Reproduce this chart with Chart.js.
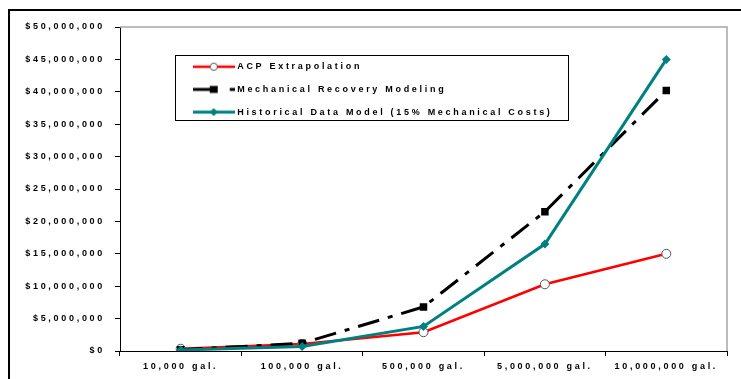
<!DOCTYPE html>
<html>
<head>
<meta charset="utf-8">
<script src="https://cdn.jsdelivr.net/npm/chart.js@4/dist/chart.umd.min.js"></script>
<style>
  html, body { margin: 0; padding: 0; background: #fff; }
  #wrap { position: relative; width: 741px; height: 379px; overflow: hidden; }
  #frame { position: absolute; left: 8px; top: 9px; width: 760px; height: 400px;
           border-left: 2px solid #000; border-top: 2px solid #000; pointer-events: none; }
  canvas { position: absolute; left: 0; top: 0; }
</style>
</head>
<body>
<div id="wrap">
  <canvas id="c" width="741" height="379"></canvas>
  <div id="frame"></div>
</div>
<script>
// Spill size categories
const categories = ['10,000 gal.', '100,000 gal.', '500,000 gal.', '5,000,000 gal.', '10,000,000 gal.'];

// Estimated response cost (US$) per spill size
const acpExtrapolation   = [350000, 1080000, 2900000, 10300000, 15000000];
const mechanicalRecovery = [200000, 1200000, 6800000, 21500000, 40200000];
const historicalModel    = [150000,  700000, 3800000, 16500000, 45000000];

// Value axis range
const yMin = 0, yMax = 50000000, yStep = 5000000;

const seriesNames = [
  'ACP Extrapolation',
  'Mechanical Recovery Modeling',
  'Historical Data Model (15% Mechanical Costs)'
];

const RED = '#ff0000', TEAL = '#008080', BLACK = '#000000';
const SPACING = '2.7px';
const FONT = { family: "'Liberation Sans', Arial, sans-serif", size: 9, weight: 'bold' };
const TEXT = '#000';

// Small legend glyphs: line sample with the series marker
function glyph(kind) {
  const cv = document.createElement('canvas');
  cv.width = 42; cv.height = 12;
  const g = cv.getContext('2d');
  const cy = 6;
  if (kind === 'acp') {
    g.strokeStyle = RED; g.lineWidth = 2.5;
    g.beginPath(); g.moveTo(0, cy); g.lineTo(42, cy); g.stroke();
    g.fillStyle = '#fff'; g.strokeStyle = '#555'; g.lineWidth = 1;
    g.beginPath(); g.arc(21, cy, 3.6, 0, Math.PI * 2); g.fill(); g.stroke();
  } else if (kind === 'mech') {
    g.strokeStyle = BLACK; g.lineWidth = 3;
    g.beginPath(); g.moveTo(0, cy); g.lineTo(22, cy); g.stroke();
    g.fillStyle = BLACK; g.fillRect(17, cy - 3.5, 8, 7);
    g.beginPath(); g.moveTo(37, cy); g.lineTo(42, cy); g.stroke();
  } else {
    g.strokeStyle = TEAL; g.lineWidth = 3;
    g.beginPath(); g.moveTo(0, cy); g.lineTo(42, cy); g.stroke();
    g.fillStyle = TEAL;
    g.beginPath(); g.moveTo(21, cy - 4); g.lineTo(25, cy); g.lineTo(21, cy + 4); g.lineTo(17, cy); g.closePath(); g.fill();
  }
  return cv;
}
const glyphs = [glyph('acp'), glyph('mech'), glyph('hist')];

const LEGEND_BOX = { dx: 55, dy: 28, w: 393, h: 65 };

const frameAndSpacing = {
  id: 'frameAndSpacing',
  beforeUpdate(chart) { chart.ctx.letterSpacing = SPACING; },
  beforeDraw(chart) { chart.ctx.letterSpacing = SPACING; },
  afterLayout(chart) {
    const lg = chart.legend, a = chart.chartArea;
    if (!lg) return;
    lg.left = a.left + LEGEND_BOX.dx + 6;
    lg.top = a.top + LEGEND_BOX.dy - 6.5;
    lg.width = LEGEND_BOX.w;
    lg.right = lg.left + LEGEND_BOX.w;
    lg.bottom = chart.height;
    lg.height = lg.bottom - lg.top;
  },
  beforeDatasetsDraw(chart) {
    const ctx = chart.ctx, a = chart.chartArea;
    ctx.save();
    // plot area outline (top and right edges)
    ctx.strokeStyle = '#a6a6a6'; ctx.lineWidth = 1.5;
    ctx.beginPath();
    ctx.moveTo(a.left, a.top); ctx.lineTo(a.right, a.top); ctx.lineTo(a.right, a.bottom);
    ctx.stroke();
    // legend frame
    ctx.strokeStyle = '#000'; ctx.lineWidth = 1;
    ctx.strokeRect(Math.round(a.left + LEGEND_BOX.dx) + 0.5, Math.round(a.top + LEGEND_BOX.dy) + 0.5,
                   LEGEND_BOX.w, LEGEND_BOX.h);
    ctx.restore();
  }
};

new Chart(document.getElementById('c'), {
  type: 'line',
  data: {
    labels: categories,
    datasets: [
      {
        label: seriesNames[0], data: acpExtrapolation, order: 3,
        borderColor: RED, borderWidth: 2.5, tension: 0,
        pointStyle: 'circle', pointRadius: 4.5,
        pointBackgroundColor: '#ffffff', pointBorderColor: '#555555', pointBorderWidth: 1
      },
      {
        label: seriesNames[1], data: mechanicalRecovery, order: 2,
        borderColor: BLACK, borderWidth: 3, borderDash: [22, 9, 5, 9], tension: 0,
        pointStyle: 'rect', pointRadius: 5.3,
        pointBackgroundColor: BLACK, pointBorderColor: BLACK, pointBorderWidth: 0
      },
      {
        label: seriesNames[2], data: historicalModel, order: 1,
        borderColor: TEAL, borderWidth: 3, tension: 0,
        pointStyle: 'rectRot', pointRadius: 4.5,
        pointBackgroundColor: TEAL, pointBorderColor: TEAL, pointBorderWidth: 0
      }
    ]
  },
  options: {
    responsive: false,
    animation: false,
    devicePixelRatio: 1,
    layout: { padding: { left: 0, top: 27, right: 14, bottom: 0 } },
    plugins: {
      tooltip: { enabled: false },
      legend: {
        position: 'chartArea',
        align: 'start',
        labels: {
          usePointStyle: true,
          pointStyleWidth: 38,
          padding: 13.7,
          color: TEXT,
          font: FONT,
          generateLabels(chart) {
            return chart.data.datasets.map((ds, i) => ({
              text: ds.label,
              pointStyle: glyphs[i],
              fillStyle: ds.borderColor,
              strokeStyle: ds.borderColor,
              lineWidth: 0,
              hidden: false,
              datasetIndex: i,
              fontColor: TEXT
            }));
          }
        }
      }
    },
    scales: {
      x: {
        offset: true,
        grid: { display: true, offset: true, drawOnChartArea: false, drawTicks: true, tickLength: 5, color: '#000' },
        border: { display: true, color: '#000', width: 1 },
        ticks: { color: TEXT, font: FONT, padding: 5, maxRotation: 0, autoSkip: false },
        afterFit(scale) { scale.height = 28; }
      },
      y: {
        min: yMin, max: yMax,
        grid: { display: true, drawOnChartArea: false, drawTicks: true, tickLength: 5, color: '#000' },
        border: { display: true, color: '#000', width: 1 },
        ticks: {
          stepSize: yStep, color: TEXT, font: FONT, padding: 10,
          callback: v => '$' + Number(v).toLocaleString('en-US')
        },
        afterFit(scale) { scale.width = 120; }
      }
    }
  },
  plugins: [frameAndSpacing]
});
</script>
</body>
</html>
